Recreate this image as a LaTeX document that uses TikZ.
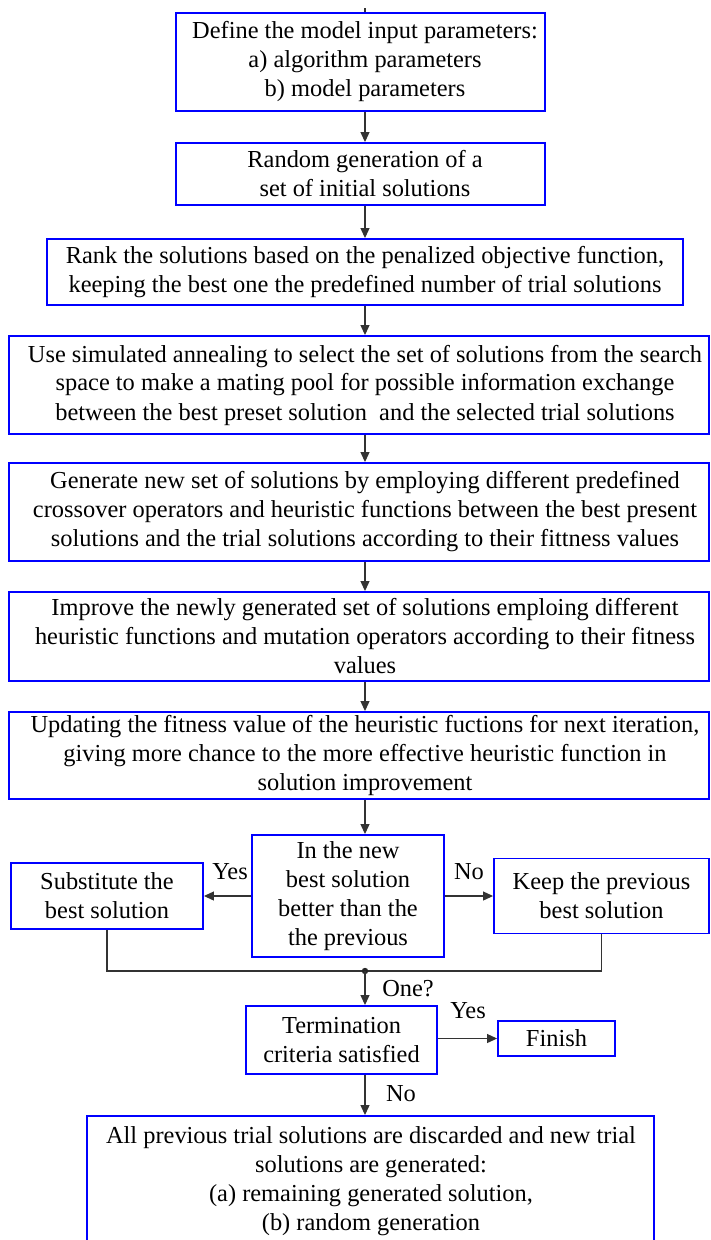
\documentclass[tikz,border=0pt]{standalone}
\usepackage{fontspec}
\setmainfont{Liberation Serif}
\usetikzlibrary{arrows.meta}

\tikzset{
  box/.style={draw=blue, line width=1.9pt, inner sep=0pt, align=center,
              font=\rmfamily\fontsize{24.4}{29}\selectfont},
  txt/.style={inner sep=0pt, align=center, font=\rmfamily\fontsize{24.4}{29}\selectfont},
  lbl/.style={inner sep=0pt, font=\rmfamily\fontsize{24.4}{29}\selectfont},
  conn/.style={draw=black!80, line width=1.1pt},
  flow/.style={conn, -{Triangle[length=10pt,width=9pt]}},
}

\begin{document}
\begin{tikzpicture}[x=1pt,y=-1pt]
\clip (0,0) rectangle (710,1240);
\fill[white] (0,0) rectangle (710,1240);

% main column of process boxes
\node[box, minimum width=369, minimum height=98] (b1) at (360.5,62) {};
\node[txt] (t1) at (365,62) {Define the model input parameters:\\a) algorithm parameters\\b) model parameters};

\node[box, minimum width=369, minimum height=62] (b2) at (360.5,174) {};
\node[txt] (t2) at (365,174) {Random generation of a\\set of initial solutions};

\node[box, minimum width=636, minimum height=66] (b3) at (365,272) {};
\node[txt] (t3) at (365,272) {Rank the solutions based on the penalized objective function,\\keeping the best one the predefined number of trial solutions};

\node[box, minimum width=700, minimum height=98] (b4) at (359,385) {};
\node[txt] (t4) at (365,385) {Use simulated annealing to select the set of solutions from the search\\space to make a mating pool for possible information exchange\\between the best preset solution\ \ and the selected trial solutions};

\node[box, minimum width=700, minimum height=98] (b5) at (359,512) {};
\node[txt] (t5) at (365,512) {Generate new set of solutions by employing different predefined\\crossover operators and heuristic functions between the best present\\solutions and the trial solutions according to their fittness values};

\node[box, minimum width=700, minimum height=89] (b6) at (359,636.5) {};
\node[txt] (t6) at (365,636.5) {Improve the newly generated set of solutions emploing different\\heuristic functions and mutation operators according to their fitness\\values};

\node[box, minimum width=700, minimum height=87] (b7) at (359,755.5) {};
\node[txt] (t7) at (365,755.5) {Updating the fitness value of the heuristic fuctions for next iteration,\\giving more chance to the more effective heuristic function in\\solution improvement};

% decision row
\node[box, minimum width=192, minimum height=122] (dec) at (348,896) {In the new\\best solution\\better than the\\the previous};
\node[box, minimum width=192, minimum height=66] (sub) at (107,896) {Substitute the\\best solution};
\node[box, minimum width=215, minimum height=75] (keep) at (601.5,896) {Keep the previous\\best solution};

% termination and end
\node[box, minimum width=191, minimum height=68] (term) at (341.5,1040) {Termination\\criteria satisfied};
\node[box, minimum width=117, minimum height=35] (fin) at (556.5,1038.5) {Finish};
\node[box, minimum width=567, minimum height=134] (reg) at (370.5,1183) {};
\node[txt] (t8) at (371,1181) {All previous trial solutions are discarded and new trial\\solutions are generated:\\(a) remaining generated solution,\\(b) random generation};

% connectors
\coordinate (ax) at (365,0);
\coordinate (top) at (365,8);
\coordinate (m) at (365,971);

\draw[conn] (top) -- (b1.north -| ax);
\draw[flow] (b1.south -| ax) -- (b2.north -| ax);
\draw[flow] (b2.south -| ax) -- (b3.north -| ax);
\draw[flow] (b3.south -| ax) -- (b4.north -| ax);
\draw[flow] (b4.south -| ax) -- (b5.north -| ax);
\draw[flow] (b5.south -| ax) -- (b6.north -| ax);
\draw[flow] (b6.south -| ax) -- (b7.north -| ax);
\draw[flow] (b7.south -| ax) -- (dec.north -| ax);

\draw[flow] (dec.west) -- (sub.east);
\draw[flow] (dec.east) -- (keep.west |- dec.east);
\node[lbl] (yes1) at (230,872) {Yes};
\node[lbl] (no1) at (469,872) {No};

\draw[conn] (sub.south) |- (m) -| (keep.south);
\fill[black!85] (m) circle (3.2);
\draw[flow] (m) -- (term.north -| m);
\node[lbl] (one) at (408,989) {One?};

\draw[flow] (fin.west -| term.east) -- (fin.west);
\node[lbl] (yes2) at (468,1011) {Yes};

\draw[flow] (term.south -| m) -- (reg.north -| m);
\node[lbl] (no2) at (401,1094) {No};
\end{tikzpicture}
\end{document}
